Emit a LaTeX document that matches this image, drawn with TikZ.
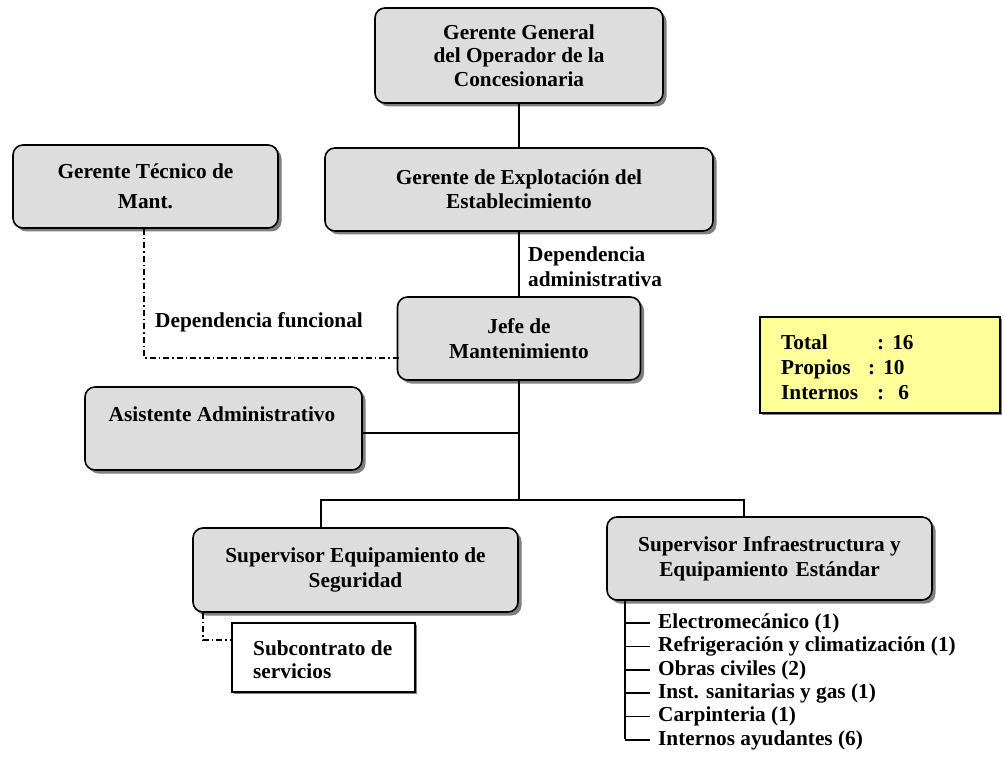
\documentclass[tikz,border=0pt]{standalone}
\usepackage{fontspec}
\setmainfont{Liberation Serif}
\usetikzlibrary{shadows}
\definecolor{boxgray}{HTML}{DDDDDD}
\definecolor{shadowgray}{HTML}{7F7F7F}
\definecolor{notey}{HTML}{FFFF99}
\begin{document}
\begin{tikzpicture}[x=1pt,y=-1pt,
  every node/.style={font=\fontsize{21.3}{25}\selectfont\bfseries},
  orgbox/.style={draw,line width=1.6pt,rounded corners=10pt,fill=boxgray,inner sep=0pt,align=center,
    drop shadow={shadow xshift=3.5pt,shadow yshift=-3.5pt,fill=shadowgray,opacity=1}},
  plainbox/.style={draw,line width=1.6pt,inner sep=0pt,
    drop shadow={shadow xshift=2pt,shadow yshift=-2pt,fill=shadowgray,opacity=1}},
  txt/.style={inner sep=0pt},
  conn/.style={line width=1.5pt},
  dd/.style={line width=1.3pt,dash pattern=on 6pt off 3pt on 1.5pt off 3pt}]
\useasboundingbox (0,0) rectangle (1003,759);

% boxes
\node[orgbox,minimum width=288pt,minimum height=95pt,font=\fontsize{21.3}{23.5}\selectfont\bfseries] (gg) at (519,55.5)
  {Gerente General\\del Operador de la\\Concesionaria};
\node[orgbox,minimum width=265pt,minimum height=83pt,font=\fontsize{21.3}{30}\selectfont\bfseries] (gt) at (145.5,186.5)
  {Gerente Técnico de\\Mant.};
\node[orgbox,minimum width=388pt,minimum height=83pt,font=\fontsize{21.3}{24}\selectfont\bfseries] (ge) at (519,189.5)
  {Gerente de Explotación del\\Establecimiento};
\node[orgbox,minimum width=243pt,minimum height=83pt] (jm) at (519,338.5)
  {Jefe de\\Mantenimiento};
\node[orgbox,minimum width=277pt,minimum height=83pt] (aa) at (223.5,428.5) {};
\node[txt] (aat) at (222,414) {Asistente Administrativo};
\node[orgbox,minimum width=325pt,minimum height=84pt] (se) at (355.5,570)
  {Supervisor Equipamiento de\\Seguridad};
\node[orgbox,minimum width=325pt,minimum height=83pt] (si) at (769.5,558.5)
  {Supervisor Infraestructura y\\Equipamiento\hspace{0.35em}Estándar};
\node[plainbox,fill=white,minimum width=183pt,minimum height=69pt] (sub) at (323.5,657.5) {};
\node[txt,anchor=west,align=left,font=\fontsize{21.3}{23}\selectfont\bfseries] (subt) at (253,660)
  {Subcontrato de\\servicios};
\node[plainbox,fill=notey,line width=1.4pt,minimum width=240pt,minimum height=96pt] (tot) at (880,365) {};
\node[txt,anchor=west,align=left] (tott) at (781,367)
  {\makebox[96pt][l]{Total}:\hspace{8pt}16\\
   \makebox[87pt][l]{Propios}:\hspace{8pt}10\\
   \makebox[96pt][l]{Internos}:\hspace{14pt}6};

% labels
\node[txt,anchor=west,align=left] (da) at (528,266.5) {Dependencia\\administrativa};
\node[txt,anchor=west] (df) at (155,322) {Dependencia funcional};

% coordinates
\coordinate (fj) at (400,358);
\coordinate (aaj) at (519,433);
\coordinate (bus) at (519,500);
\coordinate (bl) at (321,500);
\coordinate (br) at (744,500);
\coordinate (sd) at (203,640);
\coordinate (lv) at (625,739);

% connectors
\draw[conn] (gg) -- (ge);
\draw[conn] (ge) -- (jm);
\draw[conn] (jm) -- (bus);
\draw[conn] (aaj -| aa.east) -- (aaj);
\draw[conn] (bl |- se.north) -- (bl) -- (br) -- (br |- si.north);
\draw[dd] (gt.south -| 144,0) |- (fj);
\draw[dd] (sd |- se.south) -- (sd) -- (sd -| sub.west);

% list under SI
\draw[conn] (lv |- si.south) -- (lv);
\foreach \n/\yy/\t in {l1/622/{Electromecánico (1)},
                       l2/645.5/{Refrigeración y climatización (1)},
                       l3/669/{Obras civiles (2)},
                       l4/692/{Inst. sanitarias y gas (1)},
                       l5/715.5/{Carpinteria (1)},
                       l6/739/{Internos ayudantes (6)}}{
  \node[txt,anchor=west] (\n) at (658,\yy+1) {\t};
  \draw[conn] (lv |- \n.west) -- ([xshift=-8pt]\n.west);
}
\end{tikzpicture}
\end{document}
